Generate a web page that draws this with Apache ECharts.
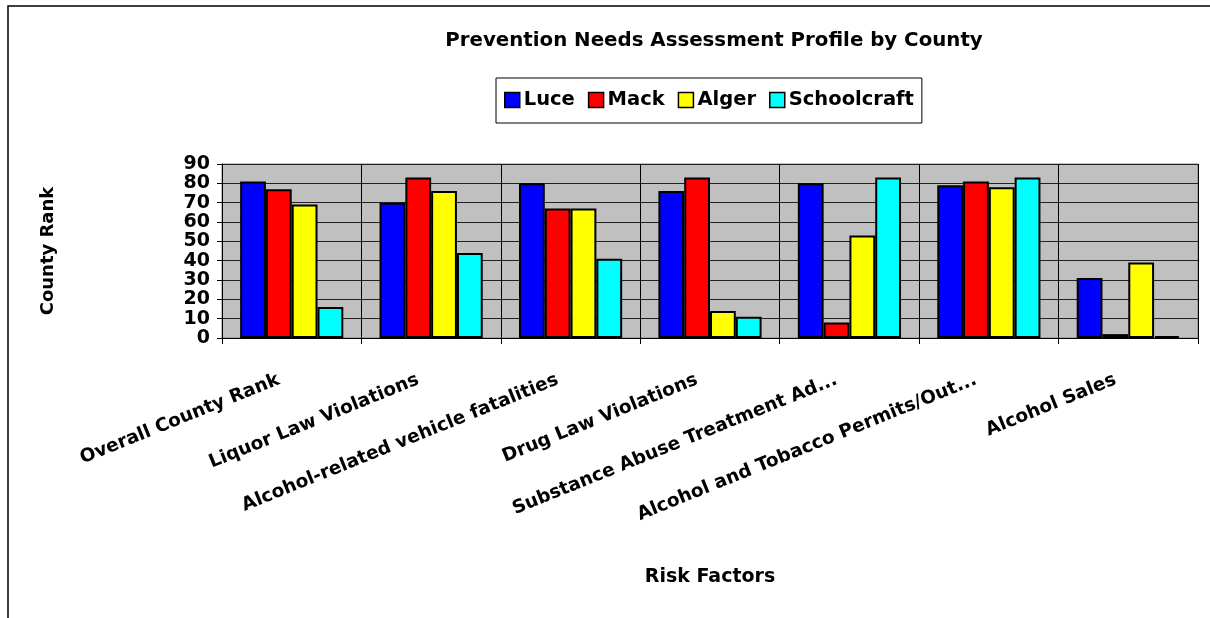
<!DOCTYPE html>
<html>
<head>
<meta charset="utf-8">
<script src="https://cdn.jsdelivr.net/npm/echarts@6/dist/echarts.min.js"></script>
<style>
  html, body { margin: 0; padding: 0; background: #fff; }
  #chart { width: 1210px; height: 618px; }
</style>
</head>
<body>
<div id="chart"></div>
<script>
// categories + series values
const riskFactors = [
  'Overall County Rank',
  'Liquor Law Violations',
  'Alcohol-related vehicle fatalities',
  'Drug Law Violations',
  'Substance Abuse Treatment Ad...',
  'Alcohol and Tobacco Permits/Out...',
  'Alcohol Sales'
];
const luce        = [81, 70, 80, 76, 80, 79, 31];
const mack        = [77, 83, 67, 83, 8, 81, 2];
const alger       = [69, 76, 67, 14, 53, 78, 39];
const schoolcraft = [16, 44, 41, 11, 83, 83, 1];
const yTicks = [0, 10, 20, 30, 40, 50, 60, 70, 80, 90];

// the old excel render is wide, DejaVu bold gets closest to it
const font = '"DejaVu Sans", "Liberation Sans", Arial, sans-serif';
const chart = echarts.init(document.getElementById('chart'));

function barSeries(name, color, data) {
  return {
    name: name,
    type: 'bar',
    data: data,
    barGap: '0%',
    barCategoryGap: '26%',
    itemStyle: { color: color, borderColor: '#000', borderWidth: 2 },
    emphasis: { disabled: true }
  };
}

chart.setOption({
  animation: false,
  textStyle: { fontFamily: font },
  graphic: [{
    type: 'rect',
    shape: { x: 8, y: 6, width: 1400, height: 800 },
    style: { fill: 'none', stroke: '#000', lineWidth: 1.5 },
    silent: true
  }],
  title: {
    text: 'Prevention Needs Assessment Profile by County',
    left: 709,
    textAlign: 'center',
    top: 26,
    textStyle: { fontFamily: font, fontSize: 19.8, fontWeight: 'bold', color: '#000' }
  },
  legend: {
    data: ['Luce', 'Mack', 'Alger', 'Schoolcraft'],
    left: 496,
    top: 78,
    padding: [12, 8, 13, 8],
    itemGap: 13,
    itemWidth: 15,
    itemHeight: 15,
    icon: 'rect',
    borderColor: '#000',
    borderWidth: 1,
    itemStyle: { borderColor: '#000', borderWidth: 1.5 },
    textStyle: { fontFamily: font, fontSize: 19.5, fontWeight: 'bold', color: '#000', padding: [0, 0, 0, -1] }
  },
  grid: {
    left: 222,
    right: 12,
    top: 164,
    bottom: 280,
    show: true,
    backgroundColor: '#c0c0c0',
    borderColor: '#808080',
    borderWidth: 1
  },
  xAxis: {
    type: 'category',
    data: riskFactors,
    name: 'Risk Factors',
    nameLocation: 'middle',
    nameGap: 230,
    nameTextStyle: { fontFamily: font, fontSize: 19, fontWeight: 'bold', color: '#000' },
    axisLine: { lineStyle: { color: '#000', width: 1 } },
    axisTick: { show: true, length: 6, lineStyle: { color: '#000' } },
    splitLine: { show: true, lineStyle: { color: '#000', width: 1 } },
    axisLabel: {
      rotate: 22,
      margin: 36,
      interval: 0,
      padding: [0, 14, 0, 0],
      fontFamily: font,
      fontSize: 18.5,
      fontWeight: 'bold',
      color: '#000'
    }
  },
  yAxis: {
    type: 'value',
    min: yTicks[0],
    max: yTicks[yTicks.length - 1],
    interval: 10,
    name: 'County Rank',
    nameLocation: 'middle',
    nameGap: 165,
    nameTextStyle: { fontFamily: font, fontSize: 18, fontWeight: 'bold', color: '#000' },
    axisLine: { show: true, lineStyle: { color: '#000', width: 1 } },
    axisTick: { show: true, length: 5, lineStyle: { color: '#000' } },
    splitLine: { show: true, lineStyle: { color: '#222', width: 1 } },
    axisLabel: {
      margin: 12,
      showMinLabel: true,
      showMaxLabel: true,
      hideOverlap: false,
      lineHeight: 14,
      fontFamily: font,
      fontSize: 19,
      fontWeight: 'bold',
      color: '#000'
    }
  },
  series: [
    barSeries('Luce', '#0000ff', luce),
    barSeries('Mack', '#ff0000', mack),
    barSeries('Alger', '#ffff00', alger),
    barSeries('Schoolcraft', '#00ffff', schoolcraft)
  ]
});
</script>
</body>
</html>
